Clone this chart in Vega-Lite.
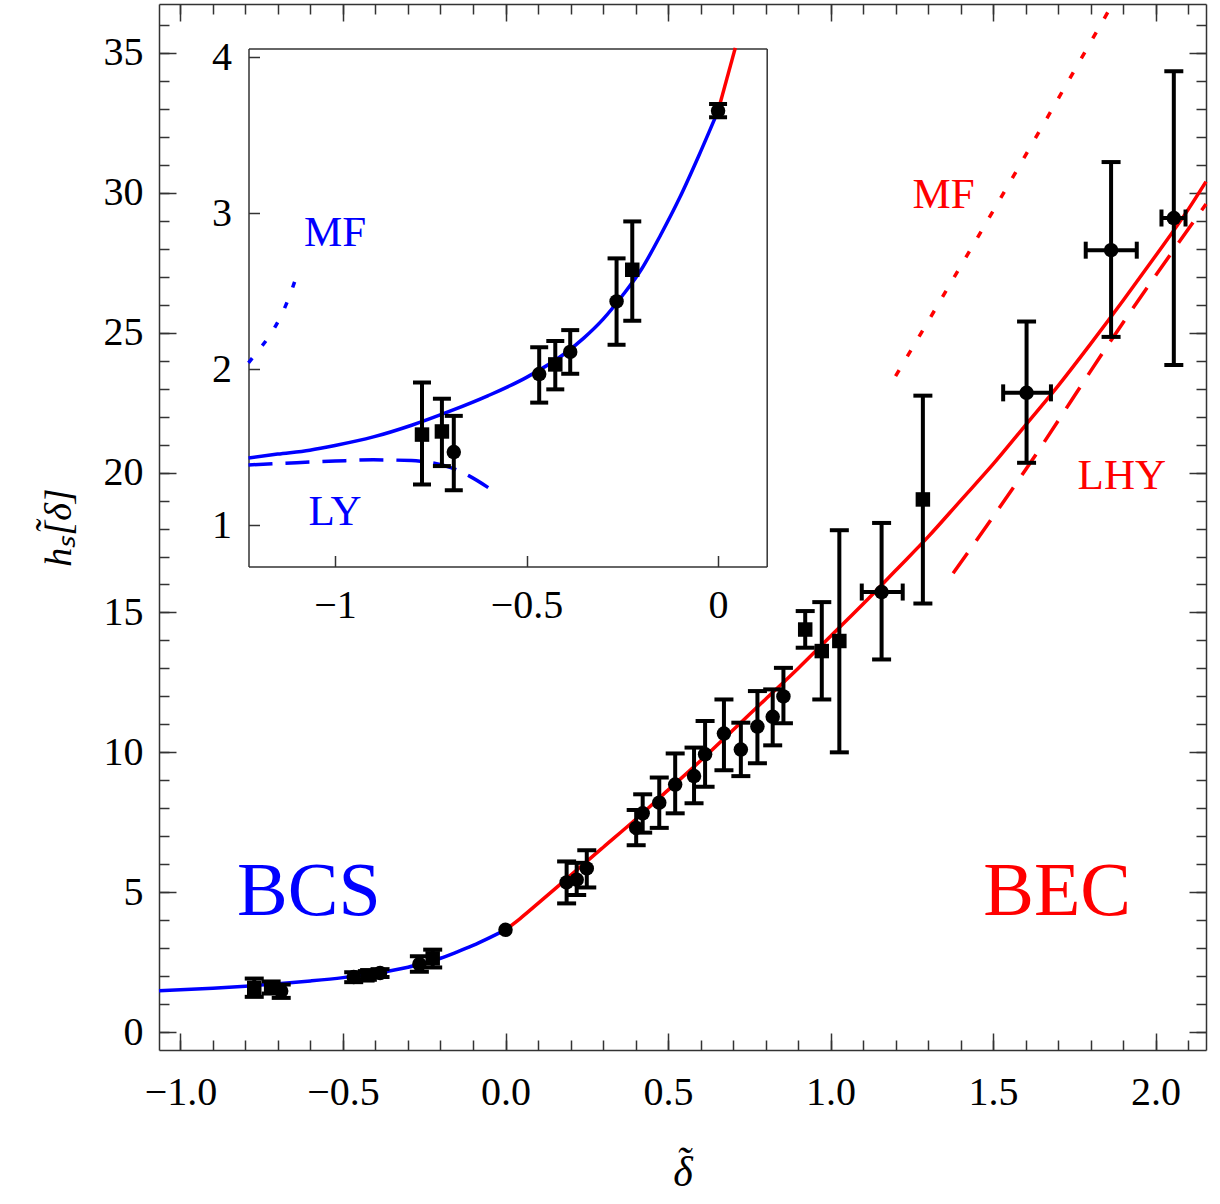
{
"$schema": "https://vega.github.io/schema/vega-lite/v6.json",
"width": 1047, "height": 1046,
"autosize": "none",
"padding": {"left": 159, "top": 4, "right": 14, "bottom": 154},
"background": "white",
"config": {
  "view": {"stroke": null},
  "axis": {"grid": false, "domainColor": "#333", "domainWidth": 1.5, "tickColor": "#333", "tickWidth": 1.5,
    "labelFont": "Liberation Serif", "labelFontSize": 40, "labelColor": "#000",
    "titleFont": "Liberation Serif", "titleFontWeight": "normal", "titleColor": "#000",
    "labelFlush": false, "labelOverlap": false, "labelBound": false, "zindex": 1},
  "text": {"font": "Liberation Serif"}
},
"datasets": {
  "curves": [
    {"curve":"bcs","x":-1.226,"y":1.43},{"curve":"bcs","x":-1.15,"y":1.455},{"curve":"bcs","x":-1.066,"y":1.48},
    {"curve":"bcs","x":-1.0,"y":1.51},{"curve":"bcs","x":-0.9,"y":1.565},{"curve":"bcs","x":-0.8,"y":1.64},
    {"curve":"bcs","x":-0.7,"y":1.73},{"curve":"bcs","x":-0.6,"y":1.83},{"curve":"bcs","x":-0.5,"y":1.947},
    {"curve":"bcs","x":-0.4,"y":2.1},{"curve":"bcs","x":-0.35,"y":2.2},{"curve":"bcs","x":-0.3,"y":2.32},
    {"curve":"bcs","x":-0.25,"y":2.47},{"curve":"bcs","x":-0.2,"y":2.64},{"curve":"bcs","x":-0.15,"y":2.86},
    {"curve":"bcs","x":-0.1,"y":3.1},{"curve":"bcs","x":-0.05,"y":3.37},{"curve":"bcs","x":0,"y":3.656},
    {"curve":"bec","x":0,"y":3.656},{"curve":"bec","x":0.045,"y":4.06},{"curve":"bec","x":0.1,"y":4.6},
    {"curve":"bec","x":0.2,"y":5.6},{"curve":"bec","x":0.3,"y":6.6},{"curve":"bec","x":0.4,"y":7.6},
    {"curve":"bec","x":0.5,"y":8.65},{"curve":"bec","x":0.6,"y":9.7},{"curve":"bec","x":0.7,"y":10.8},
    {"curve":"bec","x":0.8,"y":11.9},{"curve":"bec","x":0.9,"y":13.0},{"curve":"bec","x":1.0,"y":14.15},
    {"curve":"bec","x":1.1,"y":15.3},{"curve":"bec","x":1.2,"y":16.5},{"curve":"bec","x":1.3,"y":17.7},
    {"curve":"bec","x":1.4,"y":19.0},{"curve":"bec","x":1.5,"y":20.3},{"curve":"bec","x":1.6,"y":21.7},
    {"curve":"bec","x":1.7,"y":23.1},{"curve":"bec","x":1.8,"y":24.6},{"curve":"bec","x":1.9,"y":26.15},
    {"curve":"bec","x":2.0,"y":27.75},{"curve":"bec","x":2.1,"y":29.4},{"curve":"bec","x":2.155,"y":30.4},
    {"curve":"mf_bec","x":1.2,"y":23.45},{"curve":"mf_bec","x":1.5,"y":29.35},{"curve":"mf_bec","x":1.865,"y":36.7},
    {"curve":"lhy","x":1.377,"y":16.4},{"curve":"lhy","x":1.6,"y":20.1},{"curve":"lhy","x":1.87,"y":24.85},{"curve":"lhy","x":2.155,"y":29.6},
    {"curve":"ly","x":-1.226,"y":1.385},{"curve":"ly","x":-1.1,"y":1.4},{"curve":"ly","x":-1.0,"y":1.41},
    {"curve":"ly","x":-0.9,"y":1.418},{"curve":"ly","x":-0.8,"y":1.413},{"curve":"ly","x":-0.75,"y":1.4},
    {"curve":"ly","x":-0.7,"y":1.37},{"curve":"ly","x":-0.65,"y":1.315},{"curve":"ly","x":-0.6,"y":1.24},
    {"curve":"mf_bcs","x":-1.226,"y":2.04},{"curve":"mf_bcs","x":-1.2,"y":2.12},{"curve":"mf_bcs","x":-1.175,"y":2.2},
    {"curve":"mf_bcs","x":-1.15,"y":2.3},{"curve":"mf_bcs","x":-1.125,"y":2.43},{"curve":"mf_bcs","x":-1.1,"y":2.6}
  ],
  "points": [
    {"x":-0.773,"y":1.58,"lo":1.26,"hi":1.914,"m":"s"},
    {"x":-0.721,"y":1.6,"lo":1.378,"hi":1.81,"m":"s"},
    {"x":-0.69,"y":1.468,"lo":1.223,"hi":1.7,"m":"c"},
    {"x":-0.467,"y":1.968,"lo":1.785,"hi":2.14,"m":"c"},
    {"x":-0.425,"y":2.03,"lo":1.87,"hi":2.18,"m":"s"},
    {"x":-0.386,"y":2.11,"lo":1.97,"hi":2.25,"m":"c"},
    {"x":-0.265,"y":2.434,"lo":2.156,"hi":2.71,"m":"c"},
    {"x":-0.224,"y":2.637,"lo":2.31,"hi":2.947,"m":"s"},
    {"x":0,"y":3.656,"lo":3.615,"hi":3.7,"m":"c"},
    {"x":0.188,"y":5.35,"lo":4.6,"hi":6.1,"m":"c"},
    {"x":0.219,"y":5.45,"lo":4.9,"hi":6.05,"m":"c"},
    {"x":0.25,"y":5.85,"lo":5.17,"hi":6.5,"m":"c"},
    {"x":0.402,"y":7.3,"lo":6.68,"hi":7.94,"m":"c"},
    {"x":0.422,"y":7.82,"lo":7.13,"hi":8.5,"m":"c"},
    {"x":0.473,"y":8.2,"lo":7.3,"hi":9.1,"m":"c"},
    {"x":0.522,"y":8.85,"lo":7.82,"hi":9.96,"m":"c"},
    {"x":0.58,"y":9.15,"lo":8.18,"hi":10.17,"m":"c"},
    {"x":0.614,"y":9.93,"lo":8.77,"hi":11.12,"m":"c"},
    {"x":0.672,"y":10.67,"lo":9.36,"hi":11.89,"m":"c"},
    {"x":0.724,"y":10.1,"lo":9.15,"hi":11.06,"m":"c"},
    {"x":0.775,"y":10.92,"lo":9.61,"hi":12.19,"m":"c"},
    {"x":0.822,"y":11.27,"lo":10.25,"hi":12.25,"m":"c"},
    {"x":0.855,"y":12.0,"lo":11.04,"hi":13.02,"m":"c"},
    {"x":0.922,"y":14.39,"lo":13.74,"hi":15.05,"m":"s"},
    {"x":0.973,"y":13.62,"lo":11.89,"hi":15.37,"m":"s"},
    {"x":1.027,"y":13.98,"lo":10.0,"hi":17.94,"m":"s"},
    {"x":1.157,"y":15.73,"lo":13.32,"hi":18.2,"m":"c","xlo":1.096,"xhi":1.222},
    {"x":1.284,"y":19.04,"lo":15.32,"hi":22.75,"m":"s"},
    {"x":1.603,"y":22.85,"lo":20.35,"hi":25.4,"m":"c","xlo":1.531,"xhi":1.678},
    {"x":1.863,"y":27.95,"lo":24.85,"hi":31.1,"m":"c","xlo":1.785,"xhi":1.942},
    {"x":2.056,"y":29.1,"lo":23.85,"hi":34.35,"m":"c","xlo":2.018,"xhi":2.092}
  ],
  "labels": [
    {"x":-0.605,"y":4.2,"text":"BCS","panel":"main","kind":"big","side":"BCS"},
    {"x":1.697,"y":4.2,"text":"BEC","panel":"main","kind":"big","side":"BEC"},
    {"x":1.348,"y":29.46,"text":"MF","panel":"main","kind":"small","side":"BEC"},
    {"x":1.896,"y":19.43,"text":"LHY","panel":"main","kind":"small","side":"BEC"},
    {"x":-1.0,"y":2.79,"text":"MF","panel":"inset","kind":"small","side":"BCS"},
    {"x":-1.0,"y":1.0,"text":"LY","panel":"inset","kind":"small","side":"BCS"}
  ]
},
"resolve": {"scale": {"x": "independent", "y": "independent"}, "axis": {"x": "independent", "y": "independent"}},
"layer": [
  {
    "data": {"name": "curves"},
    "transform": [{"filter": "datum.curve == 'bcs' && datum.x >= -1.067"}],
    "mark": {"type": "line", "color": "#0000ff", "strokeWidth": 3.5, "interpolate": "monotone"},
    "encoding": {
      "x": {"field": "x", "type": "quantitative", "scale": {"domain": [-1.066, 2.155], "nice": false, "zero": false},
        "axis": {"orient": "bottom", "values": [-1, -0.5, 0, 0.5, 1, 1.5, 2], "format": ".1f", "tickSize": -17, "labelPadding": 39,
          "title": ["δ", "˜"], "titleLineHeight": -10, "titleFontSize": 42, "titleFontStyle": "italic", "titlePadding": 40}},
      "y": {"field": "y", "type": "quantitative", "scale": {"domain": [-0.64, 36.75], "nice": false, "zero": false},
        "axis": {"orient": "left", "values": [0, 5, 10, 15, 20, 25, 30, 35], "format": "d", "tickSize": -17, "labelPadding": 33,
          "title": ["hₛ[δ]", "\u00a0\u00a0\u00a0\u00a0˜"], "titleLineHeight": -9, "titleFontSize": 38, "titleFontStyle": "italic", "titlePadding": 34}}
    }
  },
  {
    "data": {"name": "curves"},
    "transform": [{"filter": "datum.curve == 'bec'"}],
    "mark": {"type": "line", "color": "#ff0000", "strokeWidth": 3.5, "interpolate": "monotone"},
    "encoding": {
      "x": {"field": "x", "type": "quantitative", "scale": {"domain": [-1.066, 2.155], "nice": false, "zero": false},
        "axis": {"orient": "bottom", "values": [-1,-0.9,-0.8,-0.7,-0.6,-0.5,-0.4,-0.3,-0.2,-0.1,0,0.1,0.2,0.3,0.4,0.5,0.6,0.7,0.8,0.9,1,1.1,1.2,1.3,1.4,1.5,1.6,1.7,1.8,1.9,2,2.1],
          "tickSize": -10, "labels": false, "domain": false, "title": null}},
      "y": {"field": "y", "type": "quantitative", "scale": {"domain": [-0.64, 36.75], "nice": false, "zero": false},
        "axis": {"orient": "left", "values": [0,1,2,3,4,5,6,7,8,9,10,11,12,13,14,15,16,17,18,19,20,21,22,23,24,25,26,27,28,29,30,31,32,33,34,35,36],
          "tickSize": -10, "labels": false, "domain": false, "title": null}}
    }
  },
  {
    "data": {"name": "curves"},
    "transform": [{"filter": "datum.curve == 'mf_bec'"}],
    "mark": {"type": "line", "color": "#ff0000", "strokeWidth": 3.5, "strokeDash": [7, 16], "interpolate": "monotone"},
    "encoding": {
      "x": {"field": "x", "type": "quantitative", "scale": {"domain": [-1.066, 2.155], "nice": false, "zero": false},
        "axis": {"orient": "top", "values": [-1, -0.5, 0, 0.5, 1, 1.5, 2], "tickSize": -17, "labels": false, "title": null}},
      "y": {"field": "y", "type": "quantitative", "scale": {"domain": [-0.64, 36.75], "nice": false, "zero": false},
        "axis": {"orient": "right", "values": [0, 5, 10, 15, 20, 25, 30, 35], "tickSize": -17, "labels": false, "title": null}}
    }
  },
  {
    "data": {"name": "curves"},
    "transform": [{"filter": "datum.curve == 'lhy'"}],
    "mark": {"type": "line", "color": "#ff0000", "strokeWidth": 3.5, "strokeDash": [25, 15], "interpolate": "monotone"},
    "encoding": {
      "x": {"field": "x", "type": "quantitative", "scale": {"domain": [-1.066, 2.155], "nice": false, "zero": false},
        "axis": {"orient": "top", "values": [-1,-0.9,-0.8,-0.7,-0.6,-0.5,-0.4,-0.3,-0.2,-0.1,0,0.1,0.2,0.3,0.4,0.5,0.6,0.7,0.8,0.9,1,1.1,1.2,1.3,1.4,1.5,1.6,1.7,1.8,1.9,2,2.1],
          "tickSize": -10, "labels": false, "domain": false, "title": null}},
      "y": {"field": "y", "type": "quantitative", "scale": {"domain": [-0.64, 36.75], "nice": false, "zero": false},
        "axis": {"orient": "right", "values": [0,1,2,3,4,5,6,7,8,9,10,11,12,13,14,15,16,17,18,19,20,21,22,23,24,25,26,27,28,29,30,31,32,33,34,35,36],
          "tickSize": -10, "labels": false, "domain": false, "title": null}}
    }
  },
  {
    "data": {"name": "points"},
    "transform": [{"filter": "datum.x != 0"}],
    "mark": {"type": "rule", "color": "#000", "strokeWidth": 4},
    "encoding": {
      "x": {"field": "x", "type": "quantitative", "scale": {"domain": [-1.066, 2.155], "nice": false, "zero": false}, "axis": null},
      "y": {"field": "lo", "type": "quantitative", "scale": {"domain": [-0.64, 36.75], "nice": false, "zero": false}, "axis": null},
      "y2": {"field": "hi"}
    }
  },
  {
    "data": {"name": "points"},
    "transform": [{"filter": "datum.x != 0"}],
    "mark": {"type": "tick", "orient": "horizontal", "color": "#000", "size": 19, "thickness": 4, "opacity": 1},
    "encoding": {
      "x": {"field": "x", "type": "quantitative", "scale": {"domain": [-1.066, 2.155], "nice": false, "zero": false}, "axis": null},
      "y": {"field": "lo", "type": "quantitative", "scale": {"domain": [-0.64, 36.75], "nice": false, "zero": false}, "axis": null}
    }
  },
  {
    "data": {"name": "points"},
    "transform": [{"filter": "datum.x != 0"}],
    "mark": {"type": "tick", "orient": "horizontal", "color": "#000", "size": 19, "thickness": 4, "opacity": 1},
    "encoding": {
      "x": {"field": "x", "type": "quantitative", "scale": {"domain": [-1.066, 2.155], "nice": false, "zero": false}, "axis": null},
      "y": {"field": "hi", "type": "quantitative", "scale": {"domain": [-0.64, 36.75], "nice": false, "zero": false}, "axis": null}
    }
  },
  {
    "data": {"name": "points"},
    "transform": [{"filter": "isValid(datum.xlo)"}],
    "mark": {"type": "rule", "color": "#000", "strokeWidth": 4},
    "encoding": {
      "x": {"field": "xlo", "type": "quantitative", "scale": {"domain": [-1.066, 2.155], "nice": false, "zero": false}, "axis": null},
      "x2": {"field": "xhi"},
      "y": {"field": "y", "type": "quantitative", "scale": {"domain": [-0.64, 36.75], "nice": false, "zero": false}, "axis": null}
    }
  },
  {
    "data": {"name": "points"},
    "transform": [{"filter": "isValid(datum.xlo)"}],
    "mark": {"type": "tick", "orient": "vertical", "color": "#000", "size": 17, "thickness": 4, "opacity": 1},
    "encoding": {
      "x": {"field": "xlo", "type": "quantitative", "scale": {"domain": [-1.066, 2.155], "nice": false, "zero": false}, "axis": null},
      "y": {"field": "y", "type": "quantitative", "scale": {"domain": [-0.64, 36.75], "nice": false, "zero": false}, "axis": null}
    }
  },
  {
    "data": {"name": "points"},
    "transform": [{"filter": "isValid(datum.xhi)"}],
    "mark": {"type": "tick", "orient": "vertical", "color": "#000", "size": 17, "thickness": 4, "opacity": 1},
    "encoding": {
      "x": {"field": "xhi", "type": "quantitative", "scale": {"domain": [-1.066, 2.155], "nice": false, "zero": false}, "axis": null},
      "y": {"field": "y", "type": "quantitative", "scale": {"domain": [-0.64, 36.75], "nice": false, "zero": false}, "axis": null}
    }
  },
  {
    "data": {"name": "points"},
    "mark": {"type": "point", "filled": true, "color": "#000", "opacity": 1, "size": 210},
    "encoding": {
      "x": {"field": "x", "type": "quantitative", "scale": {"domain": [-1.066, 2.155], "nice": false, "zero": false}, "axis": null},
      "y": {"field": "y", "type": "quantitative", "scale": {"domain": [-0.64, 36.75], "nice": false, "zero": false}, "axis": null},
      "shape": {"field": "m", "type": "nominal", "scale": {"domain": ["c", "s"], "range": ["circle", "square"]}, "legend": null}
    }
  },
  {
    "data": {"name": "labels"},
    "transform": [{"filter": "datum.panel == 'main' && datum.kind == 'big'"}],
    "mark": {"type": "text", "font": "Liberation Serif", "fontSize": 76, "align": "center", "baseline": "alphabetic"},
    "encoding": {
      "x": {"field": "x", "type": "quantitative", "scale": {"domain": [-1.066, 2.155], "nice": false, "zero": false}, "axis": null},
      "y": {"field": "y", "type": "quantitative", "scale": {"domain": [-0.64, 36.75], "nice": false, "zero": false}, "axis": null},
      "text": {"field": "text"},
      "color": {"field": "side", "type": "nominal", "scale": {"domain": ["BCS", "BEC"], "range": ["#0000ff", "#ff0000"]}, "legend": null}
    }
  },
  {
    "data": {"name": "labels"},
    "transform": [{"filter": "datum.panel == 'main' && datum.kind == 'small'"}],
    "mark": {"type": "text", "font": "Liberation Serif", "fontSize": 43, "align": "center", "baseline": "alphabetic", "color": "#ff0000"},
    "encoding": {
      "x": {"field": "x", "type": "quantitative", "scale": {"domain": [-1.066, 2.155], "nice": false, "zero": false}, "axis": null},
      "y": {"field": "y", "type": "quantitative", "scale": {"domain": [-0.64, 36.75], "nice": false, "zero": false}, "axis": null},
      "text": {"field": "text"}
    }
  },
  {
    "data": {"name": "curves"},
    "transform": [{"filter": "datum.curve == 'bcs'"}],
    "mark": {"type": "line", "color": "#0000ff", "strokeWidth": 3.5, "interpolate": "monotone"},
    "encoding": {
      "x": {"field": "x", "type": "quantitative", "scale": {"domain": [-1.226, 0.127], "range": [89.5, 607.7], "nice": false, "zero": false},
        "axis": {"orient": "bottom", "offset": -483.5, "values": [-1, -0.5, 0], "format": "~g", "tickSize": -11, "labelPadding": 30, "title": null}},
      "y": {"field": "y", "type": "quantitative", "scale": {"domain": [0.734, 4.056], "range": [562.5, 44.5], "nice": false, "zero": false},
        "axis": {"orient": "left", "offset": -89.5, "values": [1, 2, 3, 4], "format": "d", "tickSize": -11, "labelPadding": 28, "title": null}}
    }
  },
  {
    "data": {"name": "curves"},
    "transform": [{"filter": "datum.curve == 'bec' && datum.x <= 0.046"}],
    "mark": {"type": "line", "color": "#ff0000", "strokeWidth": 3.5},
    "encoding": {
      "x": {"field": "x", "type": "quantitative", "scale": {"domain": [-1.226, 0.127], "range": [89.5, 607.7], "nice": false, "zero": false},
        "axis": {"orient": "top", "offset": -44.5, "ticks": false, "labels": false, "title": null}},
      "y": {"field": "y", "type": "quantitative", "scale": {"domain": [0.734, 4.056], "range": [562.5, 44.5], "nice": false, "zero": false},
        "axis": {"orient": "right", "offset": -439.3, "ticks": false, "labels": false, "title": null}}
    }
  },
  {
    "data": {"name": "curves"},
    "transform": [{"filter": "datum.curve == 'ly'"}],
    "mark": {"type": "line", "color": "#0000ff", "strokeWidth": 3.5, "strokeDash": [24, 13], "interpolate": "monotone"},
    "encoding": {
      "x": {"field": "x", "type": "quantitative", "scale": {"domain": [-1.226, 0.127], "range": [89.5, 607.7], "nice": false, "zero": false}, "axis": null},
      "y": {"field": "y", "type": "quantitative", "scale": {"domain": [0.734, 4.056], "range": [562.5, 44.5], "nice": false, "zero": false}, "axis": null}
    }
  },
  {
    "data": {"name": "curves"},
    "transform": [{"filter": "datum.curve == 'mf_bcs'"}],
    "mark": {"type": "line", "color": "#0000ff", "strokeWidth": 3.5, "strokeDash": [6, 16], "interpolate": "monotone"},
    "encoding": {
      "x": {"field": "x", "type": "quantitative", "scale": {"domain": [-1.226, 0.127], "range": [89.5, 607.7], "nice": false, "zero": false}, "axis": null},
      "y": {"field": "y", "type": "quantitative", "scale": {"domain": [0.734, 4.056], "range": [562.5, 44.5], "nice": false, "zero": false}, "axis": null}
    }
  },
  {
    "data": {"name": "points"},
    "transform": [{"filter": "datum.x <= 0.01"}],
    "mark": {"type": "rule", "color": "#000", "strokeWidth": 4},
    "encoding": {
      "x": {"field": "x", "type": "quantitative", "scale": {"domain": [-1.226, 0.127], "range": [89.5, 607.7], "nice": false, "zero": false}, "axis": null},
      "y": {"field": "lo", "type": "quantitative", "scale": {"domain": [0.734, 4.056], "range": [562.5, 44.5], "nice": false, "zero": false}, "axis": null},
      "y2": {"field": "hi"}
    }
  },
  {
    "data": {"name": "points"},
    "transform": [{"filter": "datum.x <= 0.01"}],
    "mark": {"type": "tick", "orient": "horizontal", "color": "#000", "size": 18, "thickness": 4, "opacity": 1},
    "encoding": {
      "x": {"field": "x", "type": "quantitative", "scale": {"domain": [-1.226, 0.127], "range": [89.5, 607.7], "nice": false, "zero": false}, "axis": null},
      "y": {"field": "lo", "type": "quantitative", "scale": {"domain": [0.734, 4.056], "range": [562.5, 44.5], "nice": false, "zero": false}, "axis": null}
    }
  },
  {
    "data": {"name": "points"},
    "transform": [{"filter": "datum.x <= 0.01"}],
    "mark": {"type": "tick", "orient": "horizontal", "color": "#000", "size": 18, "thickness": 4, "opacity": 1},
    "encoding": {
      "x": {"field": "x", "type": "quantitative", "scale": {"domain": [-1.226, 0.127], "range": [89.5, 607.7], "nice": false, "zero": false}, "axis": null},
      "y": {"field": "hi", "type": "quantitative", "scale": {"domain": [0.734, 4.056], "range": [562.5, 44.5], "nice": false, "zero": false}, "axis": null}
    }
  },
  {
    "data": {"name": "points"},
    "transform": [{"filter": "datum.x <= 0.01"}],
    "mark": {"type": "point", "filled": true, "color": "#000", "opacity": 1, "size": 210},
    "encoding": {
      "x": {"field": "x", "type": "quantitative", "scale": {"domain": [-1.226, 0.127], "range": [89.5, 607.7], "nice": false, "zero": false}, "axis": null},
      "y": {"field": "y", "type": "quantitative", "scale": {"domain": [0.734, 4.056], "range": [562.5, 44.5], "nice": false, "zero": false}, "axis": null},
      "shape": {"field": "m", "type": "nominal", "scale": {"domain": ["c", "s"], "range": ["circle", "square"]}, "legend": null}
    }
  },
  {
    "data": {"name": "labels"},
    "transform": [{"filter": "datum.panel == 'inset'"}],
    "mark": {"type": "text", "font": "Liberation Serif", "fontSize": 43, "align": "center", "baseline": "alphabetic", "color": "#0000ff"},
    "encoding": {
      "x": {"field": "x", "type": "quantitative", "scale": {"domain": [-1.226, 0.127], "range": [89.5, 607.7], "nice": false, "zero": false}, "axis": null},
      "y": {"field": "y", "type": "quantitative", "scale": {"domain": [0.734, 4.056], "range": [562.5, 44.5], "nice": false, "zero": false}, "axis": null},
      "text": {"field": "text"}
    }
  }
]
}
